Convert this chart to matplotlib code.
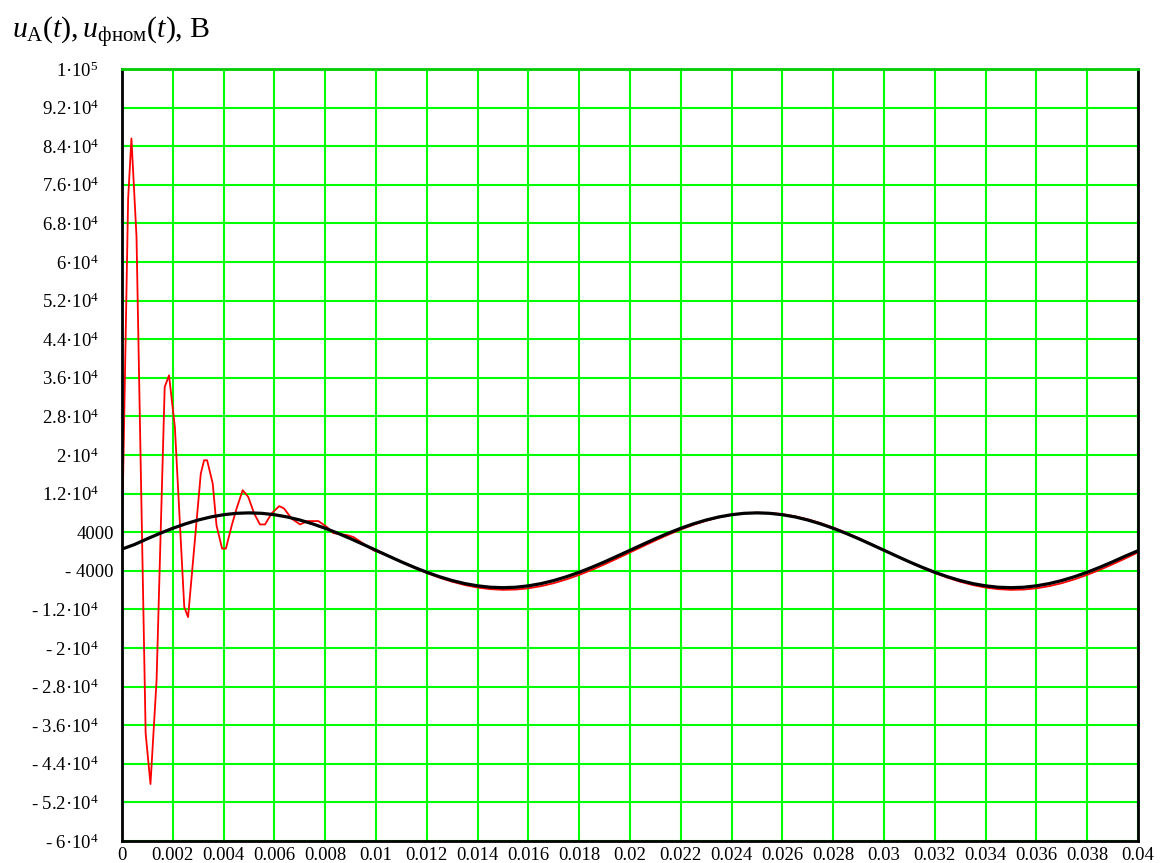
import numpy as np
import matplotlib
matplotlib.use("Agg")
import matplotlib.pyplot as plt
from matplotlib.transforms import ScaledTranslation

plt.rcParams['font.family'] = ['Liberation Serif', 'DejaVu Serif']
plt.rcParams['mathtext.fontset'] = 'custom'
plt.rcParams['mathtext.rm'] = 'Liberation Serif'
plt.rcParams['mathtext.it'] = 'Liberation Serif:italic'

# напряжение u_A(t): переходный процесс
t_red_trans = [0.0, 0.00024, 0.00037, 0.00057, 0.00093, 0.00112, 0.00136, 0.00168,
               0.00185, 0.00208, 0.00245, 0.0026, 0.0031, 0.00323, 0.00335, 0.00357,
               0.00372, 0.00394, 0.00409, 0.00432, 0.00451, 0.00475, 0.00497, 0.0052,
               0.00543, 0.00563, 0.00589, 0.00619, 0.00638, 0.00668, 0.00701, 0.0073,
               0.00773, 0.00806, 0.00832, 0.00885, 0.00911, 0.00951, 0.0099, 0.01043]
u_red_trans = [2700, 73100, 85600, 65200, -37700, -48200, -26700, 34100,
               36500, 25800, -11500, -13600, 16100, 18900, 18900, 14100,
               5400, 600, 600, 5400, 8900, 12700, 11300, 7900,
               5600, 5600, 7900, 9400, 8900, 6800, 5600, 6300,
               6300, 5100, 3800, 3400, 3000, 1600, 240, -790]

# u_A(t) после затухания, шаг 0.0005 c начиная с 0.011
t_red_steady = np.round(0.011 + 0.0005 * np.arange(59), 5)
u_red_steady = [-2180, -3360, -4450, -5430, -6270, -6960, -7480, -7810, -7950, -7890,
                -7630, -7190, -6570, -5780, -4850, -3810, -2660, -1450, -200, 1050,
                2280, 3460, 4550, 5530, 6370, 7060, 7580, 7910, 8050, 7990,
                7730, 7290, 6670, 5880, 4950, 3910, 2760, 1550, 300, -950,
                -2180, -3360, -4450, -5430, -6270, -6960, -7480, -7810, -7950, -7890,
                -7630, -7190, -6570, -5780, -4850, -3810, -2660, -1450, -200]

# u_фном(t), шаг 0.0005 c
t_black = np.round(0.0005 * np.arange(81), 5)
u_black = [500, 1460, 2650, 3770, 4810, 5730, 6520, 7160, 7620, 7910,
           8000, 7910, 7620, 7160, 6520, 5730, 4810, 3770, 2650, 1460,
           250, -960, -2150, -3270, -4310, -5230, -6020, -6660, -7120, -7410,
           -7500, -7410, -7120, -6660, -6020, -5230, -4310, -3270, -2150, -960,
           250, 1460, 2650, 3770, 4810, 5730, 6520, 7160, 7620, 7910,
           8000, 7910, 7620, 7160, 6520, 5730, 4810, 3770, 2650, 1460,
           250, -960, -2150, -3270, -4310, -5230, -6020, -6660, -7120, -7410,
           -7500, -7410, -7120, -6660, -6020, -5230, -4310, -3270, -2150, -960,
           150]

y_ticks = [100000, 92000, 84000, 76000, 68000, 60000, 52000, 44000, 36000, 28000, 20000,
           12000, 4000, -4000, -12000, -20000, -28000, -36000, -44000, -52000, -60000]
y_labels = ['1·10$^5$', '9.2·10$^4$', '8.4·10$^4$', '7.6·10$^4$', '6.8·10$^4$', '6·10$^4$',
            '5.2·10$^4$', '4.4·10$^4$', '3.6·10$^4$', '2.8·10$^4$', '2·10$^4$', '1.2·10$^4$',
            '4000', '- 4000', '- 1.2·10$^4$', '- 2·10$^4$', '- 2.8·10$^4$', '- 3.6·10$^4$',
            '- 4.4·10$^4$', '- 5.2·10$^4$', '- 6·10$^4$']
x_ticks = [0.002 * i for i in range(21)]
x_labels = ['0', '0.002', '0.004', '0.006', '0.008', '0.01', '0.012', '0.014', '0.016',
            '0.018', '0.02', '0.022', '0.024', '0.026', '0.028', '0.03', '0.032', '0.034',
            '0.036', '0.038', '0.04']

t_red = np.concatenate([t_red_trans, t_red_steady])
u_red = np.concatenate([u_red_trans, u_red_steady])

fig = plt.figure(figsize=(11.6, 8.63), dpi=100)
ax = fig.add_axes([0.1052, 0.0255, 0.8758, 0.8946])

ax.plot(t_red, u_red, color='#ff0000', lw=1.3, zorder=3)
ax.plot(t_black, u_black, color='black', lw=2.3, zorder=4)

ax.set_xlim(0, 0.04)
ax.set_ylim(-60000, 100000)
ax.set_xticks(x_ticks)
ax.set_xticklabels(x_labels, fontsize=13.5)
ax.set_yticks(y_ticks)
ax.set_yticklabels(y_labels, fontsize=13.5)
ax.tick_params(length=0, pad=6)
ax.tick_params(axis='x', pad=4)
ax.grid(True, color='#00ff00', lw=1.5, zorder=1)
ax.set_axisbelow(True)
for s in ax.spines.values():
    s.set_color('black')
    s.set_linewidth(2)
    s.set_zorder(5)
ax.spines['top'].set_color('#00cc00')

# метки со степенью сдвинуты левее, как в Mathcad
for lab in ax.get_yticklabels():
    if '$' in lab.get_text():
        lab.set_transform(lab.get_transform() + ScaledTranslation(-0.15, 0, fig.dpi_scale_trans))

fig.text(0.010, 0.955, r'$u_{\mathrm{A}}(t),u_{\mathrm{фном}}(t)$, В', fontsize=21.5,
         ha='left', va='baseline')

fig.savefig('out.png', dpi=100)
